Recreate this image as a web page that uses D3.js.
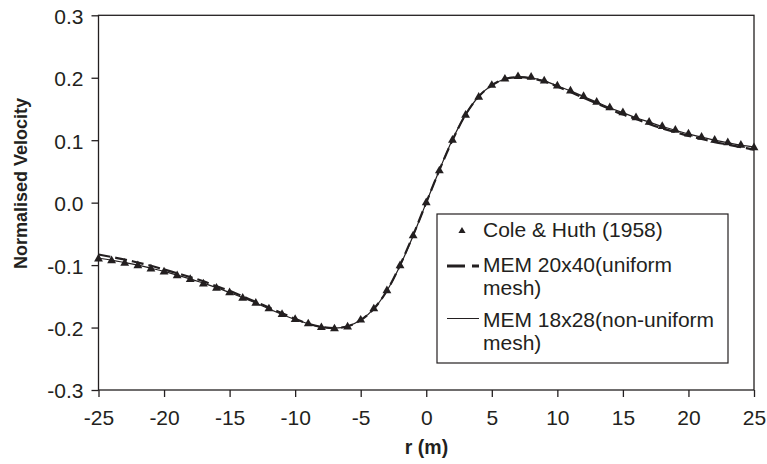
<!DOCTYPE html>
<html><head><meta charset="utf-8">
<script src="https://cdn.jsdelivr.net/npm/d3@7"></script>
<style>
html,body{margin:0;padding:0;background:#fff;}
svg{display:block;font-family:"Liberation Sans",Arial,Helvetica,sans-serif;}
</style></head>
<body>
<svg id="chart" width="767" height="464"></svg>
<script>
// ---- data ----
const rValues = [-25,-24,-23,-22,-21,-20,-19,-18,-17,-16,-15,-14,-13,-12,-11,-10,-9,-8,-7,-6,-5,-4,-3,-2,-1,0,1,2,3,4,5,6,7,8,9,10,11,12,13,14,15,16,17,18,19,20,21,22,23,24,25];
const coleHuth = [-0.090,-0.093,-0.097,-0.101,-0.106,-0.111,-0.117,-0.123,-0.130,-0.137,-0.144,-0.153,-0.161,-0.170,-0.179,-0.187,-0.194,-0.200,-0.202,-0.199,-0.188,-0.170,-0.141,-0.101,-0.053,0.000,0.051,0.100,0.140,0.169,0.188,0.198,0.202,0.201,0.195,0.187,0.179,0.170,0.161,0.152,0.144,0.136,0.129,0.122,0.116,0.110,0.105,0.100,0.096,0.092,0.088];
const mem20x40 = [-0.083,-0.087,-0.091,-0.096,-0.101,-0.107,-0.113,-0.119,-0.126,-0.134,-0.141,-0.150,-0.159,-0.168,-0.177,-0.186,-0.194,-0.199,-0.201,-0.198,-0.188,-0.170,-0.141,-0.100,-0.052,0.000,0.052,0.100,0.141,0.170,0.188,0.198,0.201,0.199,0.194,0.186,0.177,0.168,0.159,0.150,0.141,0.134,0.126,0.119,0.113,0.107,0.102,0.097,0.093,0.089,0.085];
const mem18x28 = [-0.089,-0.092,-0.096,-0.100,-0.105,-0.110,-0.116,-0.122,-0.129,-0.136,-0.144,-0.152,-0.161,-0.170,-0.179,-0.187,-0.194,-0.199,-0.201,-0.198,-0.188,-0.170,-0.141,-0.101,-0.053,0.000,0.052,0.101,0.141,0.170,0.188,0.198,0.201,0.200,0.195,0.187,0.179,0.170,0.161,0.152,0.144,0.136,0.129,0.122,0.116,0.110,0.105,0.100,0.096,0.092,0.089];
const xTicks = [-25,-20,-15,-10,-5,0,5,10,15,20,25];
const yTicks = [-0.3,-0.2,-0.1,0.0,0.1,0.2,0.3];
const legendLabels = [["Cole & Huth (1958)"],["MEM 20x40(uniform","mesh)"],["MEM 18x28(non-uniform","mesh)"]];
const xTitle = "r (m)";
const yTitle = "Normalised Velocity";

// ---- drawing ----
const ink = "#231f20";
const svg = d3.select("#chart");
const x = d3.scaleLinear().domain([-25,25]).range([98.5,754]);
const y = d3.scaleLinear().domain([-0.3,0.3]).range([390,15.3]);
const hyphen = f => d => f(d).replace("\u2212","-");

const xAxis = svg.append("g").attr("transform","translate(0,390)")
  .call(d3.axisBottom(x).tickValues(xTicks).tickSize(7).tickSizeOuter(0).tickPadding(13).tickFormat(hyphen(d3.format("d"))));
const yAxis = svg.append("g").attr("transform","translate(98.5,0)")
  .call(d3.axisLeft(y).tickValues(yTicks).tickSize(7).tickSizeOuter(0).tickPadding(8).tickFormat(hyphen(d3.format(".1f"))));
[xAxis,yAxis].forEach(g=>{
  g.select(".domain").remove();
  g.selectAll(".tick line").attr("stroke",ink).attr("stroke-width",1.3);
  g.selectAll(".tick text").attr("fill",ink).style("font-size","21px").style("font-family","'Liberation Sans',Arial,sans-serif");
});
yAxis.selectAll(".tick text").attr("dy","0.38em");
// frame
svg.append("rect").attr("x",x(-25)).attr("y",y(0.3)).attr("width",x(25)-x(-25)).attr("height",y(-0.3)-y(0.3))
  .attr("fill","none").attr("stroke",ink).attr("stroke-width",1.3);

const pts = (vals)=>rValues.map((r,i)=>[r,vals[i]]);
const line = d3.line().x(d=>x(d[0])).y(d=>y(d[1])).curve(d3.curveCatmullRom.alpha(0.5));

svg.append("path").datum(pts(mem20x40)).attr("d",line).attr("fill","none")
  .attr("stroke",ink).attr("stroke-width",2.2).attr("stroke-dasharray","12,5");
svg.append("path").datum(pts(mem18x28)).attr("d",line).attr("fill","none")
  .attr("stroke",ink).attr("stroke-width",1.2);

const tri = d3.symbol().type(d3.symbolTriangle).size(34);
svg.append("g").selectAll("path").data(pts(coleHuth)).join("path")
  .attr("d",tri).attr("fill",ink)
  .attr("transform",d=>`translate(${x(d[0])},${y(d[1])})`);

// axis titles
svg.append("text").attr("x",426.5).attr("y",454).attr("text-anchor","middle")
  .attr("font-weight","bold").attr("font-size",19.5).attr("fill",ink).text(xTitle);
svg.append("text").attr("transform","translate(27,183.5) rotate(-90)").attr("text-anchor","middle")
  .attr("font-weight","bold").attr("font-size",18).attr("fill",ink).text(yTitle);

// legend
const lg = svg.append("g");
lg.append("rect").attr("x",437).attr("y",214).attr("width",291).attr("height",149)
  .attr("fill","#fff").attr("stroke",ink).attr("stroke-width",1.2);
const baselines = [237,272,327];
legendLabels.forEach((lines,i)=>{
  lines.forEach((t,j)=>{
    lg.append("text").attr("x",483).attr("y",baselines[i]+j*23.3).attr("font-size",21).attr("fill",ink).text(t);
  });
});
lg.append("path").attr("d",d3.symbol().type(d3.symbolTriangle).size(22)())
  .attr("transform","translate(462,231)").attr("fill",ink);
lg.append("line").attr("x1",447).attr("x2",479).attr("y1",266).attr("y2",266)
  .attr("stroke",ink).attr("stroke-width",3).attr("stroke-dasharray","18,7");
lg.append("line").attr("x1",447).attr("x2",479).attr("y1",318.5).attr("y2",318.5)
  .attr("stroke",ink).attr("stroke-width",1);
</script>
</body></html>
